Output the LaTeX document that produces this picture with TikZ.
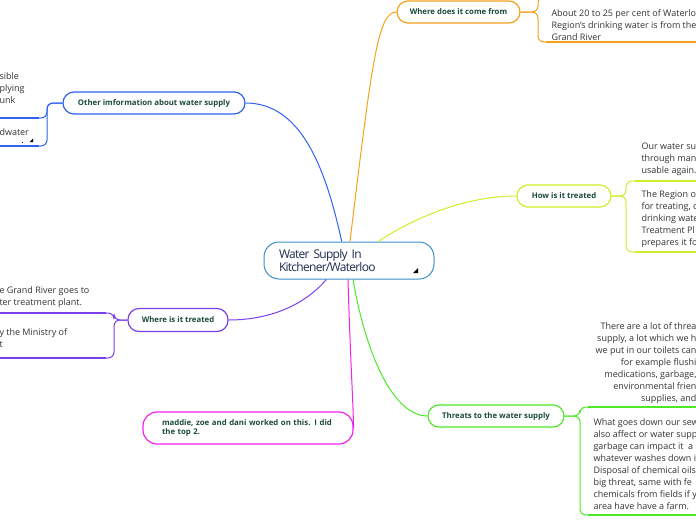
\documentclass[tikz,border=0pt]{standalone}
\usepackage{fontspec}
\setmainfont{Open Sans}
\newfontfamily\titlefont{Open Sans}[LetterSpace=-6,WordSpace=0.6]
\definecolor{cmain}{HTML}{3C8DC8}
\definecolor{cblue}{HTML}{2E62F0}
\definecolor{corange}{HTML}{F7A11A}
\definecolor{clime}{HTML}{CDEE2A}
\definecolor{cgreen}{HTML}{4CE82A}
\definecolor{cpurple}{HTML}{7B3FEE}
\definecolor{cmag}{HTML}{EE22EE}
\definecolor{tdark}{HTML}{1B4A3C}
\definecolor{tgray}{HTML}{333333}
\definecolor{tnavy}{HTML}{1E2B4E}

\begin{document}
\begin{tikzpicture}[x=1pt,y=-1pt,line width=1pt,
  topic/.style={draw,fill=white,rounded corners=11pt,line width=1.2pt,minimum height=22pt,
    inner sep=0pt,text=tdark,font=\fontsize{7.8}{9}\selectfont\bfseries},
  txt/.style={anchor=north west,align=left,inner sep=0pt,text=tgray,font=\fontsize{9}{12}\selectfont},
  ul/.style={line width=2pt},
  brk/.style={rounded corners=6pt}]
  \useasboundingbox (0,0) rectangle (696,520);
  \clip (0,0) rectangle (696,520);
  % tema central
  \node[draw=cmain,line width=1pt,rounded corners=15pt,minimum width=170pt,minimum height=37pt,
    text width=140pt,inner xsep=15pt,align=left,text=tnavy,
    font=\titlefont\fontsize{12}{12.5}\selectfont] (main) at (349,260.5)
    {Water Supply In\\Kitchener/Waterloo};
  \fill (413,273)--(418,273)--(418,268)--cycle;
  % where does it come from (naranja)
  \node[topic,draw=corange,minimum width=123pt] (come) at (458.5,12){Where does it come from};
  \draw[corange] (main.87) .. controls (372,60) and (378,12) .. (come.west);
  \draw[corange,brk] (come.east) -- (538,12) |- (548,-3);
  \draw[corange,brk] (come.east) -- (538,12) |- (548,42);
  \draw[corange,ul] (546,42) -- (697,42);
  \node[txt] (come1) at (551,9.5){About 20 to 25 per cent of Waterlo\\Region's drinking water is from the\\Grand River};
  % how is it treated (lima)
  \node[topic,draw=clime,minimum width=94pt] (treat) at (564,196){How is it treated};
  \draw[clime] (main.33) .. controls (420,214) and (470,196) .. (treat.west);
  \draw[clime,brk] (treat.east) -- (626,196) |- (637,181);
  \draw[clime,brk] (treat.east) -- (626,196) |- (637,252);
  \draw[clime,ul] (635,181) -- (697,181);
  \draw[clime,ul] (635,252) -- (697,252);
  \node[txt] (treat1) at (641,142.5){Our water su\\through man\\usable again.};
  \node[txt] (treat2) at (641,190.5){The Region o\\for treating, c\\drinking wate\\Treatment Pl\\prepares it fo};
  % threats (verde)
  \node[topic,draw=cgreen,minimum width=136pt] (threat) at (496,416){Threats to the water supply};
  \draw[cgreen] (main.282) .. controls (365,350) and (392,416) .. (threat.west);
  \draw[cgreen,brk] (threat.east) -- (580,416) |- (590,407);
  \draw[cgreen,brk] (threat.east) -- (580,416) |- (590,515);
  \draw[cgreen,ul] (588,407) -- (697,407);
  \draw[cgreen,ul] (588,515) -- (697,515);
  \node[txt,anchor=north east,align=right] (threat1) at (697,322.5){There are a lot of threa\\supply, a lot which we h\\we put in our toilets can\\for example flushi\\medications, garbage,\\environmental frien\\supplies, and};
  \node[txt] (threat2) at (593,418.5){What goes down our sew\\also affect or water supp\\garbage can impact it\ \ a\\whatever washes down i\\Disposal of chemical oils\\big threat, same with fe\\chemicals from fields if y\\area have have a farm.};
  % other information (azul)
  \node[topic,draw=cblue,minimum width=182pt] (other) at (154,103){Other imformation about water supply};
  \draw[cblue] (main.111) .. controls (325,165) and (300,103) .. (other.east);
  \draw[cblue,brk] (other.west) -- (47,103) |- (37,118);
  \draw[cblue,brk] (other.west) -- (47,103) |- (37,146);
  \draw[cblue,ul] (-1,118) -- (39,118);
  \draw[cblue,ul] (-1,146) -- (39,146);
  \node[txt] (other1) at (-1,72.5){sible\\plying\\unk};
  \node[txt] (other2) at (-1,128.5){dwater};
  \fill (22.5,142.5) circle (0.6);
  \fill (29.5,142)--(33,142)--(33,138.5)--cycle;
  % where is it treated (morado)
  \node[topic,draw=cpurple,minimum width=100pt,minimum height=23pt] (where) at (178,320){Where is it treated};
  \draw[cpurple] (main.220) .. controls (300,310) and (262,320) .. (where.east);
  \draw[cpurple,brk] (where.west) -- (114,320) |- (104,313);
  \draw[cpurple,brk] (where.west) -- (114,320) |- (104,358);
  \draw[cpurple,ul] (-1,313) -- (106,313);
  \draw[cpurple,ul] (-1,358) -- (106,358);
  \node[txt] (where1) at (-1,286.5){e Grand River goes to\\ter treatment plant.};
  \node[txt] (where2) at (-1,328.5){y the Ministry of\\t};
  % nota (magenta)
  \node[topic,draw=cmag,minimum width=210pt,minimum height=32pt,rounded corners=14pt,
    text width=172pt,align=left,inner xsep=19pt] (note) at (248,428)
    {maddie, zoe and dani worked on this. I did\\the top 2.};
  \draw[cmag] (main.267) .. controls (350,350) and (353,400) .. (note.east);
\end{tikzpicture}
\end{document}
